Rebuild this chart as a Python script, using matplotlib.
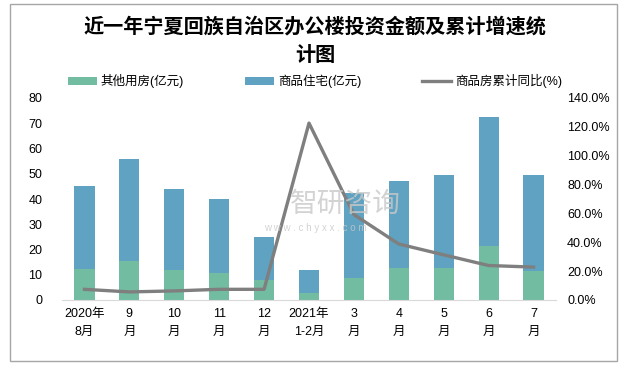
import matplotlib
matplotlib.use("Agg")
import matplotlib.pyplot as plt
from matplotlib.patches import Rectangle
from matplotlib.ticker import FuncFormatter

plt.rcParams['font.family'] = ['Liberation Sans', 'Noto Sans CJK SC', 'DejaVu Sans']

months = ["2020年\n8月", "9\n月", "10\n月", "11\n月", "12\n月", "2021年\n1-2月",
          "3\n月", "4\n月", "5\n月", "6\n月", "7\n月"]
other = [12.3, 15.5, 11.9, 10.7, 7.9, 2.8, 8.7, 12.7, 12.7, 21.4, 11.5]
total = [45.2, 56.0, 44.0, 40.1, 25.0, 11.9, 42.5, 47.2, 49.6, 72.6, 49.6]
housing = [t - o for t, o in zip(total, other)]
growth = [7.4, 5.6, 6.3, 7.4, 7.4, 122.6, 59.2, 38.8, 31.3, 23.9, 22.8]

green = "#72BCA2"
blue = "#5FA2C2"
gray = "#7F7F7F"

fig = plt.figure(figsize=(6.3, 3.69), dpi=100)
W, H = 630, 369

# outer border
fig.patches.append(Rectangle((10 / W, 1 - 361 / H), 607 / W, 357 / H,
                             transform=fig.transFigure, fill=False,
                             edgecolor="#A6A6A6", linewidth=1))

ax = fig.add_axes([62 / W, 1 - 300 / H, 494 / W, 202 / H])
x = list(range(len(months)))
ax.bar(x, other, width=0.45, color=green, label="其他用房(亿元)", zorder=2)
ax.bar(x, housing, width=0.45, bottom=other, color=blue, label="商品住宅(亿元)", zorder=2)
ax.set_xlim(-0.5, len(months) - 0.5)
ax.set_ylim(0, 80)
ax.set_yticks(range(0, 81, 10))
ax.set_xticks(x)
ax.set_xticklabels(months, fontsize=9, linespacing=1.6)
for s in ["top", "right", "left"]:
    ax.spines[s].set_visible(False)
ax.spines["bottom"].set_color("#D9D9D9")
ax.tick_params(axis="both", length=0, labelsize=9, pad=6)
ax.tick_params(axis="y", pad=14)

ax2 = ax.twinx()
ax2.plot(x, growth, color=gray, linewidth=2.4, label="商品房累计同比(%)", zorder=3)
ax2.set_ylim(0, 140)
ax2.set_yticks(range(0, 141, 20))
ax2.yaxis.set_major_formatter(FuncFormatter(lambda v, p: f"{v:.1f}%"))
for s in ["top", "right", "left", "bottom"]:
    ax2.spines[s].set_visible(False)
ax2.tick_params(axis="y", length=0, labelsize=9, pad=8)

# watermark
fig.text(345 / W, 1 - 205 / H, "智研咨询", fontsize=20, color="#C9C9C9",
         ha="center", va="center", alpha=0.8)
fig.text(315 / W, 1 - 228 / H, "w w w . c h y x x . c o m", fontsize=7,
         color="#C9C9C9", ha="center", va="center", alpha=0.8)

fig.text(315 / W, 1 - 40 / H, "近一年宁夏回族自治区办公楼投资金额及累计增速统\n计图",
         fontsize=14.5, fontweight="bold", ha="center", va="center",
         linespacing=1.45, family=['Noto Sans CJK SC'])

h1, l1 = ax.get_legend_handles_labels()
h2, l2 = ax2.get_legend_handles_labels()
fig.legend(h1 + h2, l1 + l2, loc="center", bbox_to_anchor=(315 / W, 1 - 81 / H),
           ncol=3, frameon=False, fontsize=9, handlelength=2.3,
           handleheight=0.6, columnspacing=4.9, handletextpad=0.3)

fig.savefig("out.png", dpi=100)
